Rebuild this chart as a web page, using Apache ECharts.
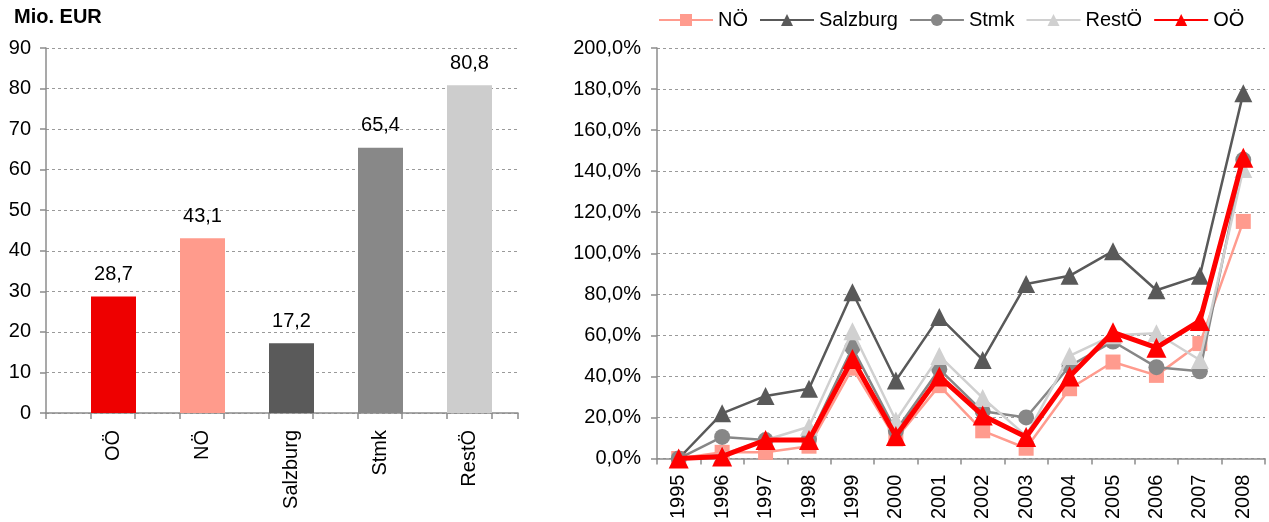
<!DOCTYPE html>
<html>
<head>
<meta charset="utf-8">
<script src="https://cdn.jsdelivr.net/npm/echarts@6/dist/echarts.min.js"></script>
<style>
  html, body { margin: 0; padding: 0; background: #fff; }
  #chart { width: 1269px; height: 522px; }
</style>
</head>
<body>
<div id="chart"></div>
<script>
// Balken: Mio. EUR je Region
const regions = ["OÖ", "NÖ", "Salzburg", "Stmk", "RestÖ"];
const amounts = [28.7, 43.1, 17.2, 65.4, 80.8];
const barColors = ["#ee0000", "#ff9b8c", "#5a5a5a", "#888888", "#cdcdcd"];

// Linien: Entwicklung in %
const years = ["1995", "1996", "1997", "1998", "1999", "2000", "2001", "2002", "2003", "2004", "2005", "2006", "2007", "2008"];
const noe = [0, 3, 3, 6, 44, 9.5, 35.5, 13.5, 5, 34, 47, 40.5, 56, 115.5];
const salzburg = [0, 22, 30.5, 34, 81, 38, 69, 48, 85, 89, 101, 82, 89, 178];
const stmk = [0, 10.5, 9, 9.5, 54, 13.5, 43.5, 23, 20, 45, 57, 44.5, 42.5, 145.5];
const restoe = [0, 2, 9, 15.5, 62, 18.5, 50, 29.5, 11, 50, 60, 61, 48, 141];
const ooe = [0, 1, 9, 9, 48.5, 11, 40, 21, 10.5, 40, 61.5, 54, 67, 146.5];

const font = "Liberation Sans, Arial, sans-serif";
const comma = (v, d) => v.toFixed(d).replace(".", ",");

const gridLine = { show: true, lineStyle: { color: "#9a9a9a", type: [3, 3], width: 1 } };
const axisLine = { show: true, lineStyle: { color: "#8c8c8c", width: 1.5 } };
const tick = { show: true, length: 6, lineStyle: { color: "#8c8c8c", width: 1.5 } };

const lineSeries = (name, data, color, symbol, size, width, z) => ({
  name: name,
  type: "line",
  xAxisIndex: 1,
  yAxisIndex: 1,
  data: data,
  symbol: symbol,
  symbolSize: size,
  lineStyle: { color: color, width: width },
  itemStyle: { color: color },
  z: z
});

const chart = echarts.init(document.getElementById("chart"));
chart.setOption({
  animation: false,
  textStyle: { fontFamily: font },
  title: {
    text: "Mio. EUR",
    left: 9,
    top: 2,
    textStyle: { fontSize: 20, fontWeight: "bold", color: "#000", fontFamily: font }
  },
  legend: {
    top: 5,
    left: 653,
    itemWidth: 54,
    itemHeight: 15,
    itemGap: 11,
    textStyle: { fontSize: 20, color: "#000", fontFamily: font },
    data: ["NÖ", "Salzburg", "Stmk", "RestÖ", "OÖ"]
  },
  grid: [
    { left: 69, right: 755, top: 48, bottom: 109 },   // Balken
    { left: 657, right: 4, top: 48, bottom: 62 },     // Linien
    { left: 46, right: 751, top: 48, bottom: 109 }    // Achsen/Raster links
  ],
  xAxis: [
    {
      gridIndex: 0,
      type: "category",
      data: regions,
      axisLine: { show: false },
      axisTick: { show: false },
      axisLabel: { rotate: 90, fontSize: 20, color: "#000", margin: 17 }
    },
    {
      gridIndex: 1,
      type: "category",
      data: years,
      axisLine: axisLine,
      axisTick: tick,
      axisLabel: { rotate: 90, fontSize: 20, color: "#000", margin: 16 }
    },
    {
      gridIndex: 2,
      type: "value",
      min: 0,
      max: 10.6,
      interval: 1,
      axisLine: axisLine,
      axisTick: tick,
      axisLabel: { show: false },
      splitLine: { show: false }
    }
  ],
  yAxis: [
    {
      gridIndex: 0,
      type: "value",
      min: 0,
      max: 90,
      interval: 10,
      show: false
    },
    {
      gridIndex: 1,
      type: "value",
      min: 0,
      max: 200,
      interval: 20,
      axisLine: axisLine,
      axisTick: tick,
      splitLine: gridLine,
      axisLabel: { fontSize: 20, color: "#000", margin: 16, formatter: v => comma(v, 1) + "%" }
    },
    {
      gridIndex: 2,
      type: "value",
      min: 0,
      max: 90,
      interval: 10,
      axisLine: axisLine,
      axisTick: tick,
      splitLine: gridLine,
      axisLabel: { fontSize: 20, color: "#000", margin: 15 }
    }
  ],
  series: [
    {
      type: "bar",
      xAxisIndex: 0,
      yAxisIndex: 0,
      barWidth: 45,
      z: 3,
      data: amounts.map((v, i) => ({ value: v, itemStyle: { color: barColors[i] } })),
      label: {
        show: true,
        position: "top",
        distance: 12,
        fontSize: 20,
        color: "#000",
        formatter: p => comma(p.value, 1)
      }
    },
    lineSeries("NÖ", noe, "#ff9b8e", "rect", 15, 2.5, 3),
    lineSeries("Salzburg", salzburg, "#595959", "triangle", 18, 2.5, 4),
    lineSeries("Stmk", stmk, "#878787", "circle", 16, 2.5, 5),
    lineSeries("RestÖ", restoe, "#d0d0d0", "triangle", 18, 2.5, 6),
    lineSeries("OÖ", ooe, "#ff0000", "triangle", 20, 5, 7)
  ]
});
</script>
</body>
</html>
